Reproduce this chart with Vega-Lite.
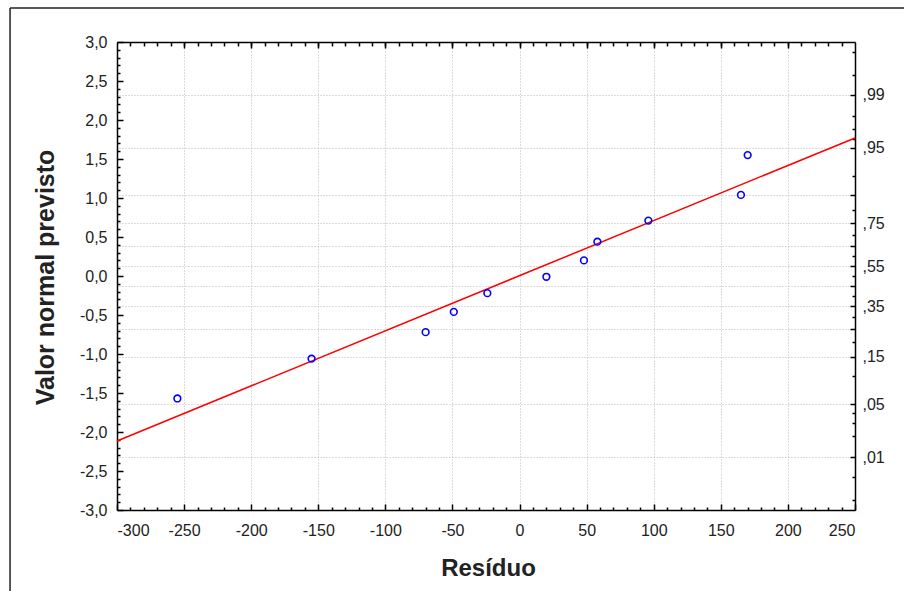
{
  "$schema": "https://vega.github.io/schema/vega-lite/v6.json",
  "width": 738,
  "height": 468,
  "autosize": "none",
  "padding": {"left": 117, "top": 42, "right": 49, "bottom": 81},
  "background": "white",
  "config": {
    "view": {"stroke": null},
    "axis": {
      "labelFont": "Liberation Sans",
      "labelFontSize": 16,
      "labelColor": "#222222",
      "titleFont": "Liberation Sans",
      "titleFontSize": 24,
      "titleFontWeight": "bold",
      "titleColor": "#222222",
      "domainColor": "#000000",
      "domainWidth": 1.5,
      "tickColor": "#000000",
      "tickWidth": 1.5,
      "gridColor": "#b8b8b8",
      "gridDash": [1, 2],
      "gridWidth": 1
    }
  },
  "datasets": {
    "pts": [
      {"residuo": -255, "normal": -1.57},
      {"residuo": -155, "normal": -1.06},
      {"residuo": -70, "normal": -0.72},
      {"residuo": -49, "normal": -0.46},
      {"residuo": -24, "normal": -0.22},
      {"residuo": 20, "normal": -0.01},
      {"residuo": 48, "normal": 0.2},
      {"residuo": 58, "normal": 0.44},
      {"residuo": 96, "normal": 0.71},
      {"residuo": 165, "normal": 1.04},
      {"residuo": 170, "normal": 1.55}
    ],
    "fit": [
      {"residuo": -300, "normal": -2.115},
      {"residuo": 250, "normal": 1.77}
    ],
    "frame": [
      {"note": "outer frame"}
    ]
  },
  "resolve": {"scale": {"x": "shared", "y": "shared"}, "axis": {"x": "independent", "y": "independent"}},
  "layer": [
    {
      "data": {"name": "fit"},
      "mark": {"type": "line", "color": "#ff0000", "strokeWidth": 1.5},
      "encoding": {
        "x": {"field": "residuo", "type": "quantitative", "scale": {"domain": [-300, 250], "nice": false, "zero": false},
          "axis": {"orient": "top", "labels": false, "title": null, "grid": false, "tickSize": -4,
            "values": [-290,-280,-270,-260,-250,-240,-230,-220,-210,-200,-190,-180,-170,-160,-150,-140,-130,-120,-110,-100,-90,-80,-70,-60,-50,-40,-30,-20,-10,0,10,20,30,40,50,60,70,80,90,100,110,120,130,140,150,160,170,180,190,200,210,220,230,240]}},
        "y": {"field": "normal", "type": "quantitative", "scale": {"domain": [-3, 3], "nice": false, "zero": false},
          "axis": {"orient": "right", "title": null, "grid": true, "tickSize": -5, "labelPadding": 12,
            "values": [-2.326,-1.645,-1.036,-0.674,-0.385,-0.126,0.126,0.385,0.674,1.036,1.645,2.326],
            "labelExpr": "[',01',',05',',15','',',35','',',55','',',75','',',95',',99'][indexof([-2.326,-1.645,-1.036,-0.674,-0.385,-0.126,0.126,0.385,0.674,1.036,1.645,2.326], datum.value)]"}}
      }
    },
    {
      "data": {"name": "pts"},
      "mark": {"type": "point", "shape": "circle", "filled": false, "color": "#0000ff", "size": 45, "strokeWidth": 1.6, "opacity": 1},
      "encoding": {
        "x": {"field": "residuo", "type": "quantitative", "scale": {"domain": [-300, 250], "nice": false, "zero": false},
          "axis": {"orient": "bottom", "title": "Resíduo", "grid": true, "tickSize": -6, "labelPadding": 18,
            "values": [-300,-250,-200,-150,-100,-50,0,50,100,150,200,250],
            "labelExpr": "replace(format(datum.value, 'd'), '\u2212', '-')",
            "titleX": 371, "titleY": 58, "titleBaseline": "middle", "titleAlign": "center"}},
        "y": {"field": "normal", "type": "quantitative", "scale": {"domain": [-3, 3], "nice": false, "zero": false},
          "axis": {"orient": "left", "title": "Valor normal previsto", "grid": false, "tickSize": -6, "labelPadding": 16,
            "values": [-3,-2.5,-2,-1.5,-1,-0.5,0,0.5,1,1.5,2,2.5,3],
            "labelExpr": "replace(replace(format(datum.value, '.1f'), '.', ','), '\u2212', '-')",
            "titleX": -72, "titleY": 235, "titleAngle": -90, "titleBaseline": "middle", "titleAlign": "center", "titleFontSize": 25}}
      }
    },
    {
      "data": {"name": "frame"},
      "mark": {"type": "rule", "color": "#222222", "strokeWidth": 1.5, "clip": false},
      "encoding": {
        "x": {"datum": -379.7, "type": "quantitative", "scale": {"domain": [-300, 250], "nice": false, "zero": false},
          "axis": {"orient": "bottom", "labels": false, "title": null, "grid": false, "domain": false, "tickSize": -3,
            "values": [-290,-280,-270,-260,-240,-230,-220,-210,-190,-180,-170,-160,-140,-130,-120,-110,-90,-80,-70,-60,-40,-30,-20,-10,10,20,30,40,60,70,80,90,110,120,130,140,160,170,180,190,210,220,230,240]}},
        "x2": {"datum": 300},
        "y": {"datum": 3.436, "type": "quantitative", "scale": {"domain": [-3, 3], "nice": false, "zero": false},
          "axis": {"orient": "left", "labels": false, "title": null, "grid": false, "domain": false, "tickSize": -3,
            "values": [-2.9,-2.8,-2.7,-2.6,-2.4,-2.3,-2.2,-2.1,-1.9,-1.8,-1.7,-1.6,-1.4,-1.3,-1.2,-1.1,-0.9,-0.8,-0.7,-0.6,-0.4,-0.3,-0.2,-0.1,0.1,0.2,0.3,0.4,0.6,0.7,0.8,0.9,1.1,1.2,1.3,1.4,1.6,1.7,1.8,1.9,2.1,2.2,2.3,2.4,2.6,2.7,2.8,2.9]}}
      }
    },
    {
      "data": {"name": "frame"},
      "mark": {"type": "rule", "color": "#222222", "strokeWidth": 1.5, "clip": false},
      "encoding": {
        "x": {"datum": -379.7, "type": "quantitative", "scale": {"domain": [-300, 250], "nice": false, "zero": false},
          "axis": {"orient": "top", "labels": false, "title": null, "grid": false, "domain": false, "tickSize": -6,
            "values": [-250,-200,-150,-100,-50,0,50,100,150,200]}},
        "y": {"datum": 3.436, "type": "quantitative", "scale": {"domain": [-3, 3], "nice": false, "zero": false},
          "axis": {"orient": "right", "labels": false, "title": null, "grid": false, "domain": false, "tickSize": -3,
            "values": [-2.878,-2.576,-2.054,-1.881,-1.751,-1.282,-0.842,-0.524,-0.253,0,0.253,0.524,0.842,1.282,1.751,1.881,2.054,2.576,2.878]}},
        "y2": {"datum": -4.3}
      }
    }
  ]
}
